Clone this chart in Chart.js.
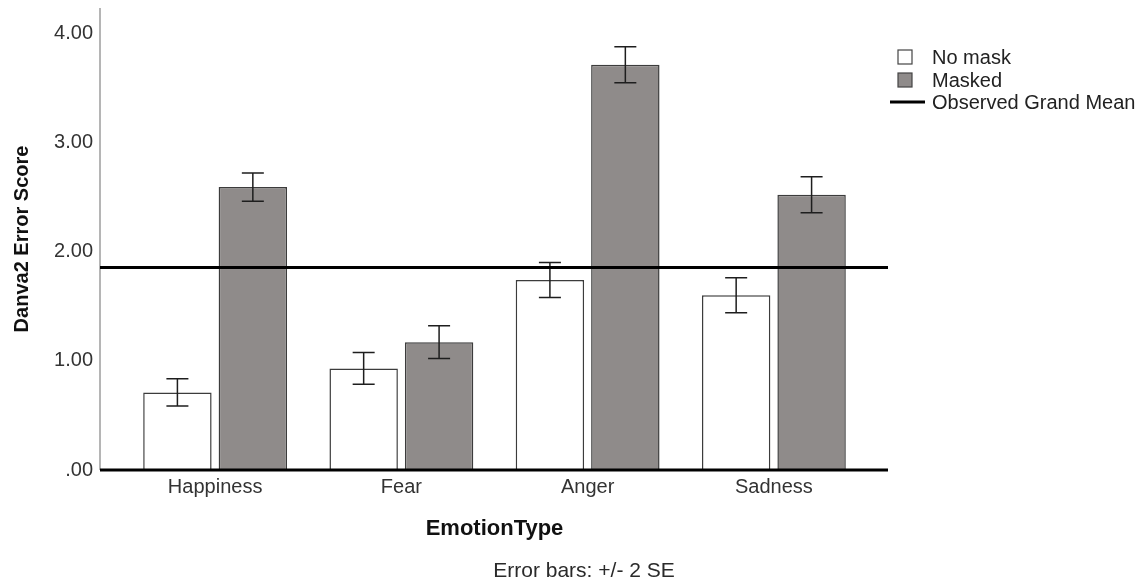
<!DOCTYPE html>
<html>
<head>
<meta charset="utf-8">
<title>Danva2 Error Score by EmotionType</title>
<script src="https://cdn.jsdelivr.net/npm/chart.js@4.4.1/dist/chart.umd.min.js"></script>
<style>
  html, body { margin: 0; padding: 0; background: #ffffff; }
  #wrap { width: 1144px; height: 586px; position: relative; }
</style>
</head>
<body>
<div id="wrap"><canvas id="errorChart"></canvas></div>
<script>
// ===============================================================
// 1. Data
// ===============================================================
const emotionTypes = ['Happiness', 'Fear', 'Anger', 'Sadness'];
const noMaskMeans = [0.71, 0.93, 1.74, 1.60];
const maskedMeans = [2.59, 1.17, 3.71, 2.52];
// half-length of the error bars (+/- 2 SE)
const noMaskErr = [0.125, 0.145, 0.16, 0.16];
const maskedErr = [0.13, 0.15, 0.165, 0.165];
const grandMean = 1.855;
const yTickLabels = ['.00', '1.00', '2.00', '3.00', '4.00'];
const seriesNames = ['No mask', 'Masked', 'Observed Grand Mean'];

const FONT = "'Liberation Sans', Arial, sans-serif";
const maskedGrey = '#8f8b8a';

// ===============================================================
// 2. Plugin: axis line, error bars, grand mean, legend, footnote
// ===============================================================
const extrasPlugin = {
    id: 'extras',
    afterDatasetsDraw(chart) {
        const ctx = chart.ctx;
        const area = chart.chartArea;
        const yScale = chart.scales.y;
        const lineLeft = area.left - 22;
        const lineRight = area.right + 21;
        const zeroY = yScale.getPixelForValue(0);

        ctx.save();

        // left axis line (sits a little outside the bars)
        ctx.strokeStyle = '#9c9c9c';
        ctx.lineWidth = 1.5;
        ctx.beginPath();
        ctx.moveTo(lineLeft, area.top);
        ctx.lineTo(lineLeft, zeroY);
        ctx.stroke();

        // error bars
        const errSets = [noMaskErr, maskedErr];
        ctx.strokeStyle = '#1e1e1e';
        ctx.lineWidth = 1.5;
        errSets.forEach((errs, di) => {
            const meta = chart.getDatasetMeta(di);
            const values = chart.data.datasets[di].data;
            meta.data.forEach((bar, i) => {
                const hi = yScale.getPixelForValue(values[i] + errs[i]);
                const lo = yScale.getPixelForValue(values[i] - errs[i]);
                const x = bar.x;
                ctx.beginPath();
                ctx.moveTo(x, hi); ctx.lineTo(x, lo);
                ctx.moveTo(x - 11, hi); ctx.lineTo(x + 11, hi);
                ctx.moveTo(x - 11, lo); ctx.lineTo(x + 11, lo);
                ctx.stroke();
            });
        });

        // grand mean and zero line
        ctx.strokeStyle = '#000000';
        ctx.lineWidth = 3;
        [grandMean, 0].forEach(v => {
            const py = yScale.getPixelForValue(v);
            ctx.beginPath();
            ctx.moveTo(lineLeft, py);
            ctx.lineTo(lineRight, py);
            ctx.stroke();
        });

        // legend
        const lx = area.right + 31;
        ctx.font = '20px ' + FONT;
        ctx.textBaseline = 'middle';
        ctx.textAlign = 'left';
        const fills = ['#ffffff', maskedGrey];
        [57, 80].forEach((cy, i) => {
            ctx.fillStyle = fills[i];
            ctx.fillRect(lx, cy - 7, 14, 14);
            ctx.strokeStyle = '#444444';
            ctx.lineWidth = 1.2;
            ctx.strokeRect(lx, cy - 7, 14, 14);
            ctx.fillStyle = '#222222';
            ctx.fillText(seriesNames[i], lx + 34, cy + 1);
        });
        ctx.strokeStyle = '#000000';
        ctx.lineWidth = 3;
        ctx.beginPath();
        ctx.moveTo(lx - 8, 102);
        ctx.lineTo(lx + 27, 102);
        ctx.stroke();
        ctx.fillText(seriesNames[2], lx + 34, 103);

        // footnote
        ctx.font = '21px ' + FONT;
        ctx.textAlign = 'center';
        ctx.fillStyle = '#2a2a2a';
        ctx.fillText('Error bars: +/- 2 SE', 584, 571);

        ctx.restore();
    }
};

// ===============================================================
// 3. Build the chart
// ===============================================================
const ctx = document.getElementById('errorChart').getContext('2d');
const errorChart = new Chart(ctx, {
    type: 'bar',
    data: {
        labels: emotionTypes,
        datasets: [
            {
                label: seriesNames[0],
                data: noMaskMeans,
                backgroundColor: '#ffffff',
                borderColor: '#3c3c3c',
                borderWidth: 1.5,
                categoryPercentage: 0.81,
                barPercentage: 0.907
            },
            {
                label: seriesNames[1],
                data: maskedMeans,
                backgroundColor: maskedGrey,
                borderColor: '#3c3c3c',
                borderWidth: 1.5,
                categoryPercentage: 0.81,
                barPercentage: 0.907
            }
        ]
    },
    options: {
        responsive: true,
        maintainAspectRatio: false,
        animation: false,
        layout: { padding: { left: 0, right: 277, top: 8, bottom: 0 } },
        plugins: {
            legend: { display: false },
            tooltip: { enabled: false }
        },
        scales: {
            x: {
                grid: { display: false, drawTicks: false },
                border: { display: false },
                ticks: { color: '#333333', font: { family: FONT, size: 20 }, padding: 5, maxRotation: 0 },
                title: {
                    display: true,
                    text: 'EmotionType',
                    color: '#111111',
                    font: { family: FONT, size: 22, weight: 'bold' },
                    padding: { top: 0, bottom: 44 }
                },
                afterFit: scale => { scale.height = 116; }
            },
            y: {
                min: 0,
                max: 4.23,
                grid: { display: false, drawTicks: false },
                border: { display: false },
                ticks: {
                    stepSize: 1,
                    includeBounds: false,
                    padding: 29,
                    color: '#333333',
                    font: { family: FONT, size: 20 },
                    callback: (value) => yTickLabels[Math.round(value)]
                },
                title: {
                    display: true,
                    text: 'Danva2 Error Score',
                    color: '#111111',
                    font: { family: FONT, size: 20, weight: 'bold' },
                    padding: { top: 10, bottom: 0 }
                },
                afterFit: scale => {
                    scale.width = 122;
                    scale.paddingTop = 0;
                    scale.paddingBottom = 0;
                }
            }
        }
    },
    plugins: [extrasPlugin]
});
</script>
</body>
</html>
